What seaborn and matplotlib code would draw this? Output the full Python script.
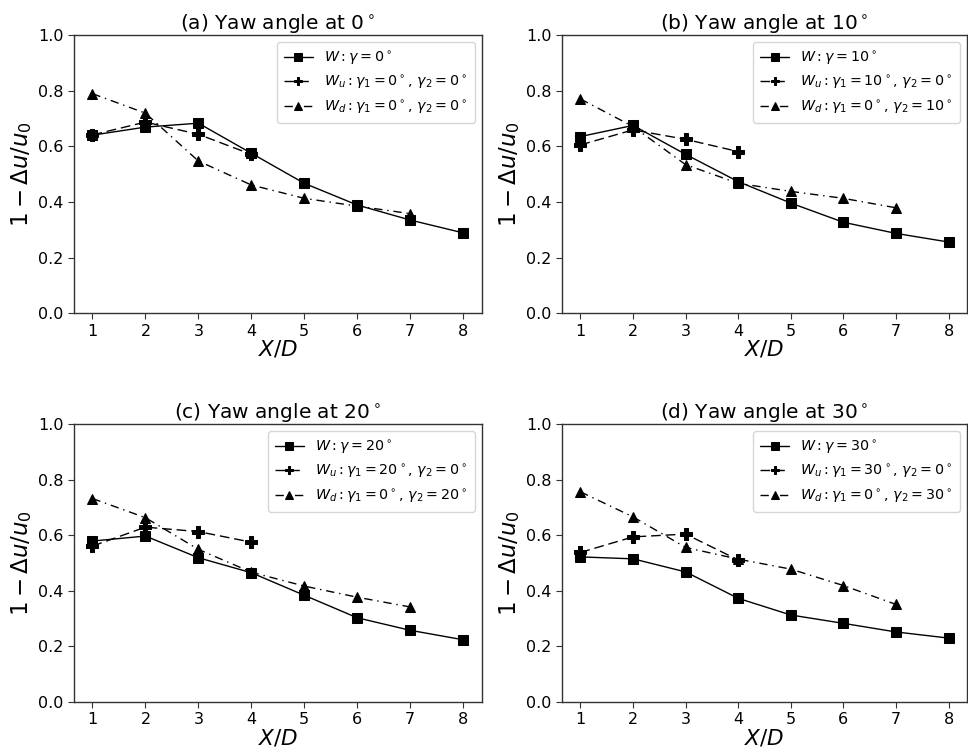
import matplotlib
matplotlib.use("Agg")
import matplotlib.pyplot as plt
import seaborn as sns
import pandas as pd

sns.set_style("ticks")
plt.rcParams['font.family'] = ['DejaVu Sans']
plt.rcParams['mathtext.fontset'] = 'dejavusans'
plt.rcParams['text.color'] = 'black'
plt.rcParams['axes.labelcolor'] = 'black'
plt.rcParams['xtick.color'] = 'black'
plt.rcParams['ytick.color'] = 'black'

x_w = [1, 2, 3, 4, 5, 6, 7, 8]
x_u = [1, 2, 3, 4]
x_d = [1, 2, 3, 4, 5, 6, 7]

yaw_angles = [0, 10, 20, 30]
panel_letters = ["a", "b", "c", "d"]

W_vals = [
    [0.640, 0.669, 0.683, 0.575, 0.467, 0.389, 0.335, 0.289],
    [0.635, 0.675, 0.571, 0.473, 0.396, 0.327, 0.287, 0.256],
    [0.579, 0.597, 0.519, 0.465, 0.384, 0.303, 0.258, 0.224],
    [0.522, 0.515, 0.468, 0.373, 0.313, 0.283, 0.252, 0.230],
]
Wu_vals = [
    [0.641, 0.687, 0.643, 0.571],
    [0.605, 0.659, 0.625, 0.581],
    [0.561, 0.629, 0.613, 0.575],
    [0.538, 0.594, 0.604, 0.511],
]
Wd_vals = [
    [0.789, 0.719, 0.547, 0.461, 0.413, 0.385, 0.358],
    [0.770, 0.671, 0.534, 0.467, 0.438, 0.413, 0.379],
    [0.732, 0.663, 0.549, 0.467, 0.417, 0.377, 0.342],
    [0.756, 0.666, 0.556, 0.514, 0.478, 0.419, 0.351],
]

fig = plt.figure(figsize=(9.68, 7.47), dpi=100)
rects = [
    [0.0764, 0.5806, 0.4212, 0.3726],
    [0.5806, 0.5806, 0.4184, 0.3726],
    [0.0764, 0.0602, 0.4212, 0.3722],
    [0.5806, 0.0602, 0.4184, 0.3722],
]

for i, ang in enumerate(yaw_angles):
    ax = fig.add_axes(rects[i])
    dfw = pd.DataFrame({"x": x_w, "y": W_vals[i]})
    dfu = pd.DataFrame({"x": x_u, "y": Wu_vals[i]})
    dfd = pd.DataFrame({"x": x_d, "y": Wd_vals[i]})
    lab_w = r"$W:\gamma=%d^\circ$" % ang
    if ang == 0:
        lab_u = r"$W_u:\gamma_1=0^\circ$, $\gamma_2=0^\circ$"
        lab_d = r"$W_d:\gamma_1=0^\circ$, $\gamma_2=0^\circ$"
    else:
        lab_u = r"$W_u:\gamma_1=%d^\circ$, $\gamma_2=0^\circ$" % ang
        lab_d = r"$W_d:\gamma_1=0^\circ$, $\gamma_2=%d^\circ$" % ang
    sns.lineplot(data=dfw, x="x", y="y", ax=ax, color="k", marker="s",
                 markersize=7, linestyle="-", linewidth=1.0, label=lab_w,
                 markeredgecolor="k")
    sns.lineplot(data=dfu, x="x", y="y", ax=ax, color="k", marker="P",
                 markersize=8, linestyle=(0, (7, 3.5)), linewidth=1.0,
                 label=lab_u, markeredgecolor="k")
    sns.lineplot(data=dfd, x="x", y="y", ax=ax, color="k", marker="^",
                 markersize=7, linestyle=(0, (6, 3.5, 1, 3.5)), linewidth=1.0,
                 label=lab_d, markeredgecolor="k")
    ax.set_ylim(0, 1.0)
    ax.set_xlim(0.65, 8.35)
    ax.set_xticks(x_w)
    ax.set_yticks([0.0, 0.2, 0.4, 0.6, 0.8, 1.0])
    ax.set_yticklabels(["0.0", "0.2", "0.4", "0.6", "0.8", "1.0"])
    ax.tick_params(labelsize=11.5, length=4, color="0.2")
    ax.set_xlabel(r"$X/D$", fontsize=15.5, labelpad=0)
    ax.set_ylabel(r"$1-\Delta u/u_0$", fontsize=16.5, labelpad=3)
    ax.set_title("(%s) Yaw angle at %d$^\\circ$" % (panel_letters[i], ang),
                 fontsize=14.5, pad=4)
    for s in ax.spines.values():
        s.set_color("0.2")
        s.set_linewidth(1.0)
    ax.legend(loc="upper right", fontsize=10.3, frameon=True,
              handlelength=2.0, borderpad=0.5, labelspacing=0.5,
              markerscale=0.75)

fig.savefig("out.png", dpi=100)
